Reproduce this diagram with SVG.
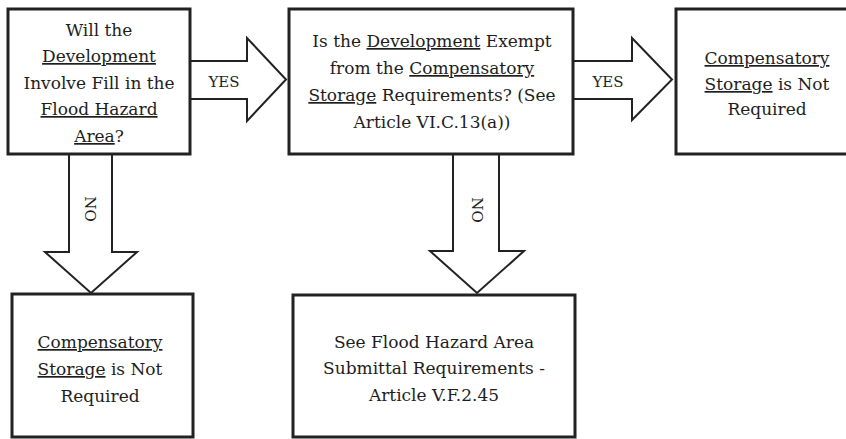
<svg xmlns="http://www.w3.org/2000/svg" width="846" height="439" viewBox="0 0 846 439">
<style>
.box{fill:#fff;stroke:#222;stroke-width:3}
.arr{fill:#fff;stroke:#222;stroke-width:2;stroke-linejoin:miter}
text{font-family:"DejaVu Serif","Liberation Serif",serif;fill:#1e1e1e}
.t{font-size:17px;text-anchor:middle}
.lbl{font-size:15px;text-anchor:middle}
.u{text-decoration:underline}
</style>
<rect x="0" y="0" width="846" height="439" fill="#fff"/>
<g id="connectors">
<path class="arr" d="M190,61 H247 V38 L286,79.5 L247,121 V99 H190"/>
<text class="lbl" x="224" y="87">YES</text>
<path class="arr" d="M573,61 H632 V38 L672,79.5 L632,120 V99 H573"/>
<text class="lbl" x="608" y="87">YES</text>
<path class="arr" d="M69,154 V252 H45 L91,293 L137,252 H112 V154"/>
<text class="lbl" transform="translate(85,209) rotate(90)">NO</text>
<path class="arr" d="M453,154 V251 H430 L477,293 L524,251 H499 V154"/>
<text class="lbl" transform="translate(472,210) rotate(90)">NO</text>
</g>
<g id="node1">
<rect class="box" x="8" y="9" width="182" height="145"/>
<text class="t" x="99" y="36">Will the</text>
<text class="t" x="99" y="62"><tspan class="u">Development</tspan></text>
<text class="t" x="99" y="89">Involve Fill in the</text>
<text class="t" x="99" y="115"><tspan class="u">Flood Hazard</tspan></text>
<text class="t" x="99" y="142"><tspan class="u">Area</tspan>?</text>
</g>
<g id="node2">
<rect class="box" x="289" y="9" width="284" height="145"/>
<text class="t" x="432" y="47">Is the <tspan class="u">Development</tspan> Exempt</text>
<text class="t" x="432" y="74">from the  <tspan class="u">Compensatory</tspan></text>
<text class="t" x="432" y="101"><tspan class="u">Storage</tspan> Requirements? (See</text>
<text class="t" x="432" y="128">Article VI.C.13(a))</text>
</g>
<g id="node3">
<rect class="box" x="676" y="9" width="182" height="145"/>
<text class="t" x="767" y="64"><tspan class="u">Compensatory</tspan></text>
<text class="t" x="767" y="90"><tspan class="u">Storage</tspan> is Not</text>
<text class="t" x="767" y="115">Required</text>
</g>
<g id="node4">
<rect class="box" x="12" y="294" width="181" height="143"/>
<text class="t" x="100" y="348"><tspan class="u">Compensatory</tspan></text>
<text class="t" x="100" y="375"><tspan class="u">Storage</tspan> is Not</text>
<text class="t" x="100" y="402">Required</text>
</g>
<g id="node5">
<rect class="box" x="293" y="295" width="282" height="142"/>
<text class="t" x="434" y="348">See Flood Hazard Area</text>
<text class="t" x="434" y="374">Submittal Requirements -</text>
<text class="t" x="434" y="401">Article V.F.2.45</text>
</g>
</svg>
